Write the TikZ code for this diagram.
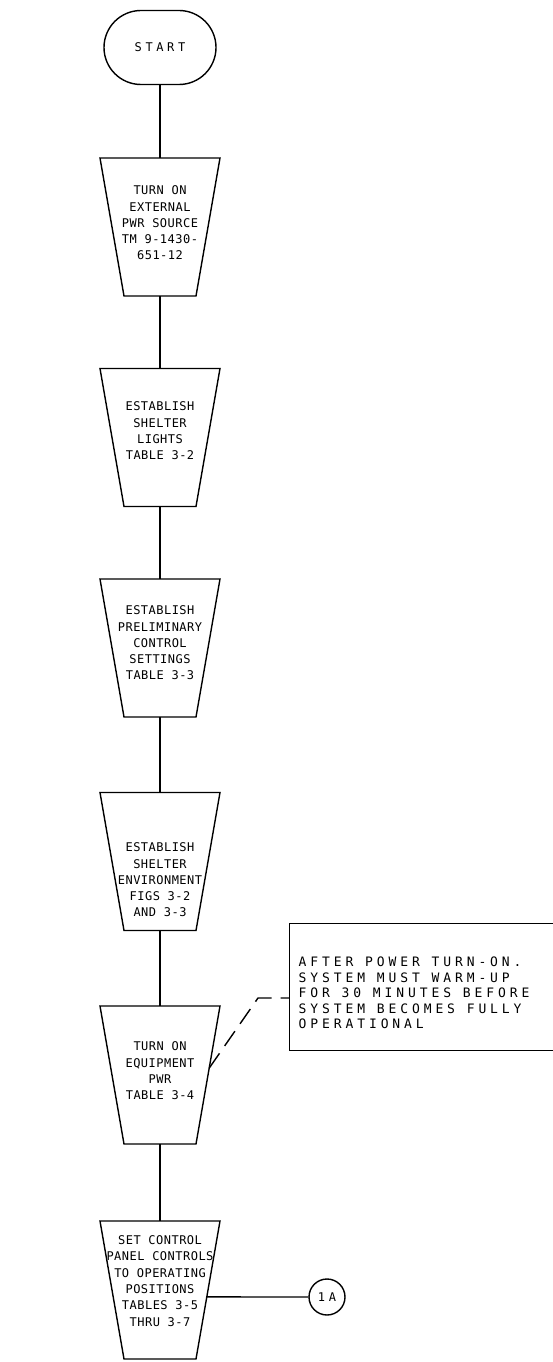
\documentclass[tikz,border=0pt]{standalone}
\usepackage{fontspec}
\newfontfamily\plotfont{DejaVu Sans Mono}[LetterSpace=4]
\newfontfamily\noteplotfont{DejaVu Sans Mono}[LetterSpace=30]
\usetikzlibrary{shapes.misc,calc}
\newcommand\procbox[3]{%
  \coordinate (#1) at (#2,#3);
  \coordinate (#1-nw) at (#2-60,#3-69);
  \coordinate (#1-ne) at (#2+60,#3-69);
  \coordinate (#1-se) at (#2+36,#3+69);
  \coordinate (#1-sw) at (#2-36,#3+69);
  \coordinate (#1-n) at (#2,#3-69);
  \coordinate (#1-s) at (#2,#3+69);
  \draw[procline] (#1-nw) -- (#1-ne) -- (#1-se) -- (#1-sw) -- cycle;}
\begin{document}
\begin{tikzpicture}[x=1pt,y=-1pt,line width=1.4pt,
  procline/.style={line join=miter},
  ptext/.style={align=center,inner sep=0pt,font=\plotfont\fontsize{12}{16.3}\selectfont},
  ntext/.style={align=left,inner sep=0pt,anchor=west,font=\noteplotfont\fontsize{13}{15.6}\selectfont},
  term/.style={draw,rounded rectangle,minimum width=112pt,minimum height=74pt,inner sep=0pt,
    font=\noteplotfont\fontsize{12}{15}\selectfont},
  conn/.style={draw,circle,minimum size=36pt,inner sep=0pt,font=\noteplotfont\fontsize{12}{15}\selectfont},
  notebox/.style={draw,rectangle,anchor=north west,minimum width=266pt,minimum height=127pt,inner sep=0pt},
  notelink/.style={dash pattern=on 18pt off 9pt}]
\useasboundingbox[fill=white] (0,0) rectangle (552,1362);

\node[term] (start) at (160,47.5) {START};

\procbox{p1}{160}{227}
\node[ptext] (t1) at (160,223) {TURN ON\\EXTERNAL\\PWR SOURCE\\TM 9-1430-\\651-12};

\procbox{p2}{160}{437.5}
\node[ptext] (t2) at (160,431) {ESTABLISH\\SHELTER\\LIGHTS\\TABLE 3-2};

\procbox{p3}{160}{648}
\node[ptext] (t3) at (160,643) {ESTABLISH\\PRELIMINARY\\CONTROL\\SETTINGS\\TABLE 3-3};

\procbox{p4}{160}{861.5}
\node[ptext] (t4) at (160,880) {ESTABLISH\\SHELTER\\ENVIRONMENT\\FIGS 3-2\\AND 3-3};

\procbox{p5}{160}{1075}
\node[ptext] (t5) at (160,1071) {TURN ON\\EQUIPMENT\\PWR\\TABLE 3-4};

\procbox{p6}{160}{1290}
\node[ptext] (t6) at (160,1281) {SET CONTROL\\PANEL CONTROLS\\TO OPERATING\\POSITIONS\\TABLES 3-5\\THRU 3-7};

\node[conn] (c1a) at (327,1297) {1A};

\node[notebox] (note) at (289,923) {};
\node[ntext] (nt) at (298,993) {AFTER POWER TURN-ON.\\SYSTEM MUST WARM-UP\\FOR 30 MINUTES BEFORE\\SYSTEM BECOMES FULLY\\OPERATIONAL};

\draw (start.south) -- (p1-n);
\draw (p1-s) -- (p2-n);
\draw (p2-s) -- (p3-n);
\draw (p3-s) -- (p4-n);
\draw (p4-s) -- (p5-n);
\draw (p5-s) -- (p6-n);
\coordinate (p6-e) at ($(p6-ne)!0.55!(p6-se)$);
\draw (p6-e) -- (c1a.west);

\coordinate (p5-e) at ($(p5-ne)!0.45!(p5-se)$);
\coordinate (bend) at (258,998);
\draw[notelink] (p5-e) -- (bend) -- (bend -| note.west);
\end{tikzpicture}
\end{document}
